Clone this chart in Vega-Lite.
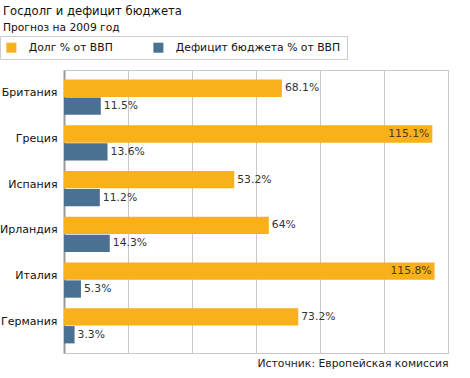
{
  "$schema": "https://vega.github.io/schema/vega-lite/v6.json",
  "width": 384,
  "height": 283,
  "autosize": {"type": "none"},
  "padding": {"left": 64, "top": 70, "right": 22, "bottom": 25},
  "background": "#ffffff",
  "title": {
    "text": "Госдолг и дефицит бюджета",
    "subtitle": "Прогноз на 2009 год",
    "anchor": "start",
    "frame": "group",
    "dx": -61,
    "offset": 3,
    "font": "DejaVu Sans",
    "fontSize": 11.6,
    "fontWeight": "normal",
    "color": "#111111",
    "subtitleFont": "DejaVu Sans",
    "subtitleFontSize": 10.7,
    "subtitleColor": "#111111",
    "subtitlePadding": 5
  },
  "data": {
    "values": [
      {"country": "Британия", "series": "Долг % от ВВП", "value": 68.1},
      {"country": "Британия", "series": "Дефицит бюджета % от ВВП", "value": 11.5},
      {"country": "Греция", "series": "Долг % от ВВП", "value": 115.1},
      {"country": "Греция", "series": "Дефицит бюджета % от ВВП", "value": 13.6},
      {"country": "Испания", "series": "Долг % от ВВП", "value": 53.2},
      {"country": "Испания", "series": "Дефицит бюджета % от ВВП", "value": 11.2},
      {"country": "Ирландия", "series": "Долг % от ВВП", "value": 64},
      {"country": "Ирландия", "series": "Дефицит бюджета % от ВВП", "value": 14.3},
      {"country": "Италия", "series": "Долг % от ВВП", "value": 115.8},
      {"country": "Италия", "series": "Дефицит бюджета % от ВВП", "value": 5.3},
      {"country": "Германия", "series": "Долг % от ВВП", "value": 73.2},
      {"country": "Германия", "series": "Дефицит бюджета % от ВВП", "value": 3.3}
    ]
  },
  "transform": [
    {"calculate": "format(datum.value, '.1~f') + '%'", "as": "label"}
  ],
  "encoding": {
    "y": {
      "field": "country",
      "type": "nominal",
      "sort": null,
      "scale": {"paddingInner": 0.23, "paddingOuter": 0.21},
      "axis": {
        "title": null,
        "ticks": false,
        "domainColor": "#999999",
        "domainWidth": 2,
        "labelFont": "DejaVu Sans",
        "labelFontSize": 11,
        "labelColor": "#111111",
        "labelPadding": 7,
        "labelOffset": -4
      }
    },
    "yOffset": {
      "field": "series",
      "type": "nominal",
      "sort": ["Долг % от ВВП", "Дефицит бюджета % от ВВП"],
      "scale": {"paddingInner": 0.03}
    },
    "x": {
      "field": "value",
      "type": "quantitative",
      "scale": {"domain": [0, 120], "nice": false},
      "axis": {
        "values": [0, 20, 40, 60, 80, 100, 120],
        "labels": false,
        "ticks": false,
        "domain": false,
        "grid": true,
        "gridColor": "#c8c8c8",
        "title": "Источник: Европейская комиссия",
        "titleAnchor": "end",
        "titleAlign": "right",
        "titleFont": "DejaVu Sans",
        "titleFontSize": 10.8,
        "titleFontWeight": "normal",
        "titleColor": "#222222",
        "titlePadding": 4
      }
    }
  },
  "layer": [
    {
      "mark": {"type": "bar"},
      "encoding": {
        "color": {
          "field": "series",
          "type": "nominal",
          "scale": {
            "domain": ["Долг % от ВВП", "Дефицит бюджета % от ВВП"],
            "range": ["#F9B11B", "#4A7191"]
          },
          "legend": {
            "title": null,
            "orient": "none",
            "direction": "horizontal",
            "legendX": -64,
            "legendY": -34,
            "strokeColor": "#cccccc",
            "padding": 6,
            "symbolType": "square",
            "symbolSize": 100,
            "symbolStrokeWidth": 0,
            "labelOffset": 12,
            "columnPadding": 40,
            "labelFont": "DejaVu Sans",
            "labelFontSize": 10.8,
            "labelColor": "#111111",
            "labelLimit": 300
          }
        }
      }
    },
    {
      "transform": [{"filter": "datum.value < 100"}],
      "mark": {"type": "text", "align": "left", "baseline": "middle", "dx": 3, "font": "DejaVu Sans", "fontSize": 10.8, "color": "#333333"},
      "encoding": {"text": {"field": "label"}}
    },
    {
      "transform": [{"filter": "datum.value >= 100"}],
      "mark": {"type": "text", "align": "right", "baseline": "middle", "dx": -3, "font": "DejaVu Sans", "fontSize": 10.8, "color": "#4a3a1a"},
      "encoding": {"text": {"field": "label"}}
    }
  ],
  "config": {
    "view": {"stroke": "#c8c8c8"}
  }
}
